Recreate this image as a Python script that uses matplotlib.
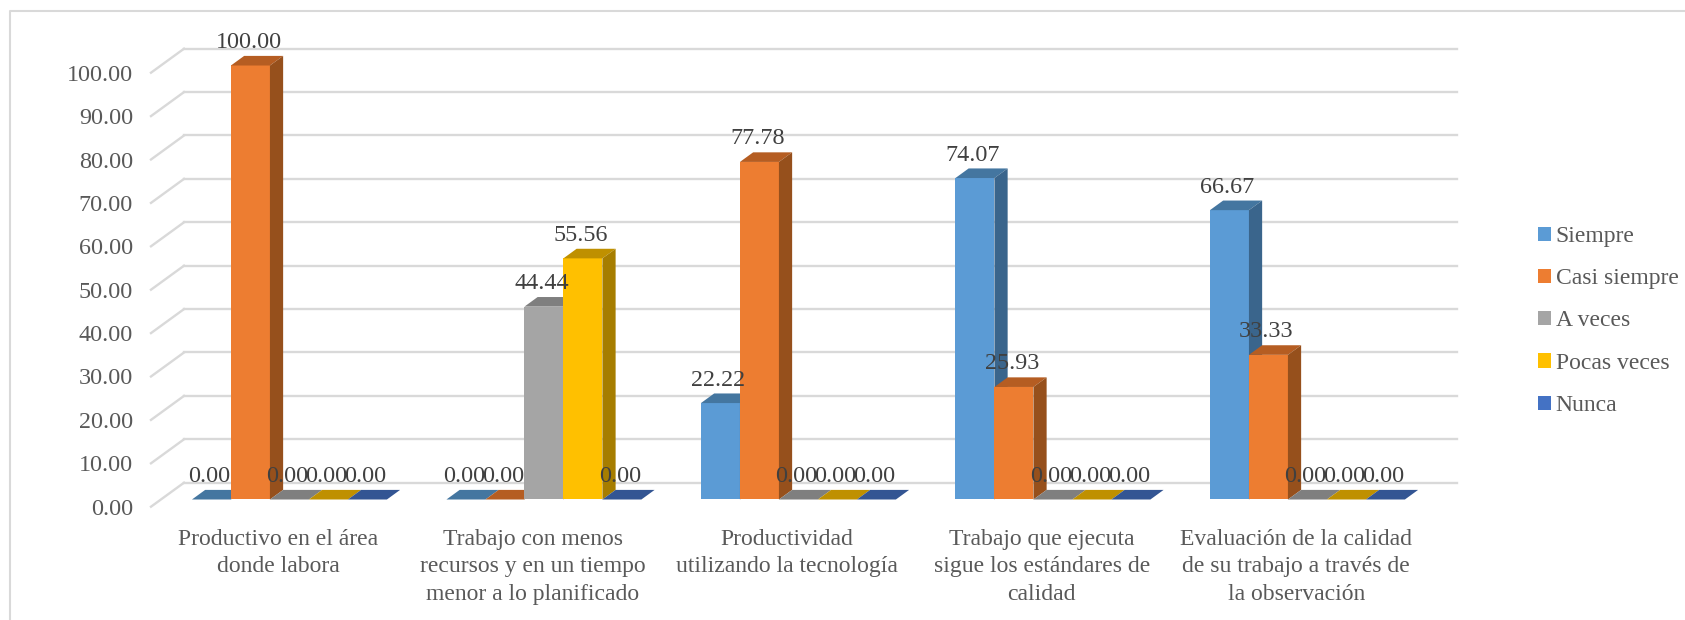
"""3D-look clustered bars, drawn with flat patches on one axes."""

import matplotlib

matplotlib.use("Agg")
import matplotlib.pyplot as plt
from matplotlib.lines import Line2D
from matplotlib.patches import Patch, Polygon

CATEGORIES = [
    "Productivo en el área\ndonde labora",
    "Trabajo con menos\nrecursos y en un tiempo\nmenor a lo planificado",
    "Productividad\nutilizando la tecnología",
    "Trabajo que ejecuta\nsigue los estándares de\ncalidad",
    "Evaluación de la calidad\nde su trabajo a través de\nla observación",
]
SERIES = ["Siempre", "Casi siempre", "A veces", "Pocas veces", "Nunca"]
SIEMPRE = [0.00, 0.00, 22.22, 74.07, 66.67]
CASI_SIEMPRE = [100.00, 0.00, 77.78, 25.93, 33.33]
A_VECES = [0.00, 44.44, 0.00, 0.00, 0.00]
POCAS_VECES = [0.00, 55.56, 0.00, 0.00, 0.00]
NUNCA = [0.00, 0.00, 0.00, 0.00, 0.00]
Y_TICKS = [0, 10, 20, 30, 40, 50, 60, 70, 80, 90, 100]

# front, top, side
COLORS = [
    ("#5b9bd5", "#4476a0", "#3a658c"),
    ("#ed7d31", "#b55d22", "#96501c"),
    ("#a5a5a5", "#7f7f7f", "#6e6e6e"),
    ("#ffc000", "#bf9000", "#a67d00"),
    ("#4472c4", "#335593", "#2c4a80"),
]
GRID = "#d9d9d9"
W, H = 1685, 620
FONT = "Liberation Serif"
FS = 17

plt.rcParams["font.family"] = [FONT, "DejaVu Sans"]

# shear of the fake depth, in data units
DEPTH_X = 0.1297
DEPTH_Y = 5.53
BAR_W = 0.1532
GAP = 0.122


def proj(x, y, d):
    return x + DEPTH_X * d, y + DEPTH_Y * d


def draw_bar(ax, x, val, colors):
    front, top, side = colors
    x1 = x + BAR_W
    ax.add_patch(Polygon([proj(x, 0, .3), proj(x1, 0, .3), proj(x1, val, .3), proj(x, val, .3)],
                         fc=front, lw=0, zorder=3, clip_on=False))
    ax.add_patch(Polygon([proj(x, val, .3), proj(x1, val, .3), proj(x1, val, .7), proj(x, val, .7)],
                         fc=top, lw=0, zorder=3, clip_on=False))
    if val > 0:
        ax.add_patch(Polygon([proj(x1, 0, .3), proj(x1, 0, .7), proj(x1, val, .7), proj(x1, val, .3)],
                             fc=side, lw=0, zorder=3, clip_on=False))


fig = plt.figure(figsize=(W / 100, H / 100), dpi=100, facecolor="white")
ax = fig.add_axes([151 / W, 1 - 506.7 / H, 1272.5 / W, 434 / H])
ax.set_xlim(0, 5)
ax.set_ylim(0, 100)
ax.patch.set_visible(False)
for s in ax.spines.values():
    s.set_visible(False)

# back wall lines and the left wall diagonals
for t in Y_TICKS:
    ax.plot([0, DEPTH_X], [t, t + DEPTH_Y], color=GRID, lw=1.7, clip_on=False, zorder=1)
    ax.plot([DEPTH_X, 5 + DEPTH_X], [t + DEPTH_Y] * 2, color=GRID, lw=1.7, clip_on=False, zorder=1)

all_series = [SIEMPRE, CASI_SIEMPRE, A_VECES, POCAS_VECES, NUNCA]
for g in range(len(CATEGORIES)):
    for i, vals in enumerate(all_series):
        draw_bar(ax, g + GAP + i * BAR_W, vals[g], COLORS[i])

for g in range(len(CATEGORIES)):
    for i, vals in enumerate(all_series):
        x = g + GAP + (i + .5) * BAR_W
        xy = proj(x, vals[g], .3)
        ax.annotate(f"{vals[g]:.2f}", xy, xytext=(-2, 23), textcoords="offset pixels",
                    ha="center", va="center", fontsize=17.4, color="#404040", zorder=5,
                    annotation_clip=False)

ax.set_yticks(Y_TICKS, [f"{t:.2f}" for t in Y_TICKS])
ax.set_xticks([g + .5 for g in range(len(CATEGORIES))], CATEGORIES)
ax.tick_params(axis="y", length=0, pad=13, labelsize=17.4, labelcolor="#595959")
ax.tick_params(axis="x", length=0, pad=16, labelsize=FS, labelcolor="#595959")
for lab in ax.get_xticklabels():
    lab.set_linespacing(1.4)

handles = [Patch(fc=c[0], lw=0) for c in COLORS]
leg = fig.legend(handles, SERIES, loc="upper left", bbox_to_anchor=(1538 / W, 1 - 226 / H),
                 bbox_transform=fig.transFigure, frameon=False, fontsize=FS, labelcolor="#595959",
                 handlelength=0.55, handleheight=0.55, handletextpad=0.2, labelspacing=0.90,
                 borderpad=0, borderaxespad=0)

# outer chart frame, cut by the image on the right and bottom
fig.add_artist(Line2D([10 / W, 10 / W, 1], [0, 1 - 11 / H, 1 - 11 / H], color=GRID, lw=1.5))

fig.savefig("out.png", dpi=100)
